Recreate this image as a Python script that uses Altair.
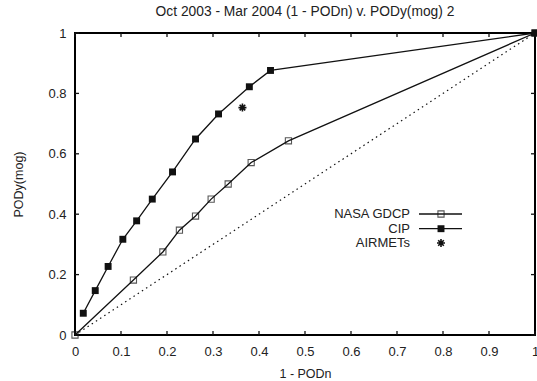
import altair as alt
import pandas as pd

# ---- data ----
cip_x = [0.018, 0.044, 0.072, 0.104, 0.134, 0.168, 0.212, 0.262, 0.312, 0.379, 0.425, 1.0]
cip_y = [0.072, 0.147, 0.227, 0.317, 0.378, 0.450, 0.540, 0.649, 0.732, 0.822, 0.876, 1.0]
nasa_x = [0.0, 0.127, 0.191, 0.227, 0.262, 0.296, 0.333, 0.383, 0.464, 1.0]
nasa_y = [0.0, 0.182, 0.275, 0.347, 0.394, 0.450, 0.500, 0.571, 0.643, 1.0]
airmet_x = [0.364]
airmet_y = [0.753]
diag_x = [0.0, 1.0]
diag_y = [0.0, 1.0]
frame_x = [0.0, 1.0, 1.0, 0.0, 0.0]
frame_y = [0.0, 0.0, 1.0, 1.0, 0.0]
x_ticks = [0.0, 0.1, 0.2, 0.3, 0.4, 0.5, 0.6, 0.7, 0.8, 0.9, 1.0]
y_ticks = [0.0, 0.2, 0.4, 0.6, 0.8, 1.0]
legend_names = ["NASA GDCP", "CIP", "AIRMETs"]

W, H = 460, 302
FONT = "Liberation Sans"
INK = "#111111"
ASTER = "M-1,0L1,0M0,-1L0,1M-0.7,-0.7L0.7,0.7M-0.7,0.7L0.7,-0.7"

cip = pd.DataFrame({"x": cip_x, "y": cip_y, "o": range(len(cip_x))})
nasa = pd.DataFrame({"x": nasa_x, "y": nasa_y, "o": range(len(nasa_x))})
air = pd.DataFrame({"x": airmet_x, "y": airmet_y})
diag = pd.DataFrame({"x": diag_x, "y": diag_y})
frame = pd.DataFrame({"x": frame_x, "y": frame_y, "o": range(len(frame_x))})
xt = pd.DataFrame({"x": x_ticks})
yt = pd.DataFrame({"y": y_ticks})

xs = alt.Scale(domain=[0, 1], nice=False, zero=False)
ys = alt.Scale(domain=[0, 1], nice=False, zero=False)

xaxis = alt.Axis(values=x_ticks, format="~g", domain=False, ticks=False, grid=False,
                 labelFont=FONT, labelFontSize=13, labelColor="#222", labelPadding=10,
                 title="1 - PODn", titleFont=FONT, titleFontSize=12.5, titleFontWeight="normal",
                 titleColor="#222", titlePadding=9, labelFlush=False)
yaxis = alt.Axis(values=y_ticks, format="~g", domain=False, ticks=False, grid=False,
                 labelFont=FONT, labelFontSize=13, labelColor="#222", labelPadding=9,
                 title="PODy(mog)", titleFont=FONT, titleFontSize=12.5, titleFontWeight="normal",
                 titleColor="#222", titlePadding=22, labelFlush=False)

X = alt.X("x:Q", scale=xs, axis=xaxis)
Y = alt.Y("y:Q", scale=ys, axis=yaxis)

diag_layer = alt.Chart(diag).mark_line(color=INK, strokeWidth=1.2, strokeDash=[1.5, 3.5]).encode(x=X, y=Y)

frame_layer = alt.Chart(frame).mark_line(color="#000000", strokeWidth=2, strokeJoin="miter",
                                         strokeCap="square").encode(x=X, y=Y, order="o:Q")

nasa_line = alt.Chart(nasa).mark_line(color=INK, strokeWidth=1.3).encode(x=X, y=Y, order="o:Q")
nasa_pts = alt.Chart(nasa).mark_point(shape="square", filled=False, color=INK, size=38,
                                      strokeWidth=1.1).encode(x=X, y=Y)
cip_line = alt.Chart(cip).mark_line(color=INK, strokeWidth=1.3).encode(x=X, y=Y, order="o:Q")
cip_pts = alt.Chart(cip).mark_point(shape="square", filled=True, color=INK, size=48,
                                    opacity=1).encode(x=X, y=Y)
air_pts = alt.Chart(air).mark_point(shape=ASTER, filled=False, color=INK, size=64,
                                    strokeWidth=1.6, opacity=1).encode(x=X, y=Y)

# inward ticks on all four sides
TL = 4
tb = alt.Chart(xt).mark_rule(color=INK, strokeWidth=1.3).encode(
    x=X, y=alt.value(H), y2=alt.value(H - TL))
tt = alt.Chart(xt).mark_rule(color=INK, strokeWidth=1.3).encode(
    x=X, y=alt.value(0), y2=alt.value(TL))
tl = alt.Chart(yt).mark_rule(color=INK, strokeWidth=1.3).encode(
    y=Y, x=alt.value(0), x2=alt.value(TL))
tr = alt.Chart(yt).mark_rule(color=INK, strokeWidth=1.3).encode(
    y=Y, x=alt.value(W), x2=alt.value(W - TL))

# legend (gnuplot style: label left, sample right)
LY = [181, 195.7, 210]
leg = []
for i, name in enumerate(legend_names):
    base = alt.Chart(pd.DataFrame({"n": [name]}))
    leg.append(base.mark_text(align="right", baseline="middle", font=FONT, fontSize=13,
                              color="#222").encode(x=alt.value(335), y=alt.value(LY[i]), text="n:N"))
    if i < 2:
        leg.append(base.mark_rule(color=INK, strokeWidth=1.3).encode(
            x=alt.value(344), x2=alt.value(387), y=alt.value(LY[i])))
leg.append(alt.Chart(pd.DataFrame({"n": ["NASA GDCP"]})).mark_point(
    shape="square", filled=False, color=INK, size=38, strokeWidth=1.1).encode(
    x=alt.value(366), y=alt.value(LY[0])))
leg.append(alt.Chart(pd.DataFrame({"n": ["CIP"]})).mark_point(
    shape="square", filled=True, color=INK, size=48, opacity=1).encode(
    x=alt.value(366), y=alt.value(LY[1])))
leg.append(alt.Chart(pd.DataFrame({"n": ["AIRMETs"]})).mark_point(
    shape=ASTER, filled=False, color=INK, size=64, strokeWidth=1.6, opacity=1).encode(
    x=alt.value(366), y=alt.value(LY[2])))

chart = alt.layer(
    diag_layer, frame_layer, nasa_line, cip_line, nasa_pts, cip_pts, air_pts,
    tb, tt, tl, tr, *leg
).properties(
    width=W, height=H,
    title=alt.TitleParams("Oct 2003 - Mar 2004 (1 - PODn) v. PODy(mog) 2", font=FONT,
                          fontSize=13.8, fontWeight="normal", color="#222", anchor="middle",
                          offset=8),
    autosize=alt.AutoSizeParams(type="none"),
    padding={"left": 75, "top": 33, "right": 2, "bottom": 46},
    background="white",
).configure_view(stroke=INK, strokeWidth=1.6)

chart.save("out.html", embed_options={"renderer": "svg", "actions": False})
